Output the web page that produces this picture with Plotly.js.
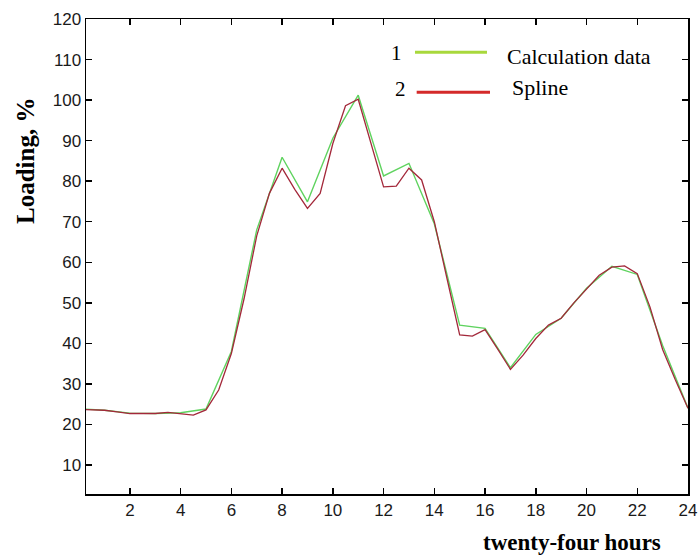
<!DOCTYPE html>
<html>
<head>
<meta charset="utf-8">
<script src="https://cdn.plot.ly/plotly-3.0.1.min.js"></script>
<style>html,body{margin:0;padding:0;background:#fff;}#chart{width:698px;height:557px;}</style>
</head>
<body>
<div id="chart"></div>
<script>
// Series 1: calculation data (hourly)
const calcHours = [0, 1, 2, 3, 4, 5, 6, 7, 8, 9, 10, 11, 12, 13, 14, 15, 16, 17, 18, 19, 20, 21, 22, 23, 24];
const calcValues = [23.9, 23.5, 22.8, 22.7, 22.9, 23.8, 38, 68, 85.9, 74.9, 90.6, 101.2, 81.3, 84.4, 69.5, 44.5, 43.7, 34.0, 42.2, 46.2, 53.6, 59.0, 57.0, 39.5, 24.0];

// Series 2: spline (half-hourly)
const splineHours = [0, 0.5, 1, 1.5, 2, 2.5, 3, 3.5, 4, 4.5, 5, 5.5, 6, 6.5, 7, 7.5, 8, 8.5, 9, 9.5, 10, 10.5, 11, 11.5, 12, 12.5, 13, 13.5, 14, 14.5, 15, 15.5, 16, 16.5, 17, 17.5, 18, 18.5, 19, 19.5, 20, 20.5, 21, 21.5, 22, 22.5, 23, 23.5, 24];
const splineValues = [23.7, 23.6, 23.5, 23.1, 22.7, 22.7, 22.7, 23.0, 22.7, 22.3, 23.6, 28.5, 37.5, 51, 66.5, 77, 83.2, 78, 73.3, 77, 89.3, 98.6, 100.2, 89.5, 78.6, 78.8, 83.2, 80.3, 70, 56, 42.1, 41.8, 43.4, 38.6, 33.6, 37.1, 41.2, 44.5, 46.2, 50, 53.5, 56.8, 58.8, 59.1, 57.2, 49, 38.5, 31, 24];

const xTicks = [2, 4, 6, 8, 10, 12, 14, 16, 18, 20, 22, 24];
const yTicks = [10, 20, 30, 40, 50, 60, 70, 80, 90, 100, 110, 120];

const seriesNames = ["Calculation data", "Spline"];
const seriesNumbers = ["1", "2"];
const xTitle = "twenty-four hours";
const yTitle = "Loading, %";

const traces = [
  {x: calcHours, y: calcValues, type: "scatter", mode: "lines", name: seriesNames[0],
   line: {color: "#5fd35f", width: 1.4}, showlegend: false},
  {x: splineHours, y: splineValues, type: "scatter", mode: "lines", name: seriesNames[1],
   line: {color: "#a3283a", width: 1.3}, showlegend: false}
];

const serif = "'Liberation Serif', 'Times New Roman', serif";
const sans = "'Liberation Sans', Arial, sans-serif";

const layout = {
  width: 698, height: 557,
  margin: {l: 86, r: 10, t: 19, b: 63},
  paper_bgcolor: "#fff", plot_bgcolor: "#fff",
  font: {family: serif},
  xaxis: {range: [0.27, 24], tickvals: xTicks, ticktext: xTicks.map(String),
    ticks: "inside", ticklen: 6, tickwidth: 1.5, tickcolor: "#000",
    showline: true, linecolor: "#000", linewidth: 1.5, mirror: "ticks",
    showgrid: false, zeroline: false,
    tickfont: {family: sans, size: 17, color: "#1a1a1a"}},
  yaxis: {range: [2.85, 120], tickvals: yTicks, ticktext: yTicks.map(String),
    ticks: "inside", ticklen: 6, tickwidth: 1.5, tickcolor: "#000",
    showline: true, linecolor: "#000", linewidth: 1.5, mirror: "ticks",
    showgrid: false, zeroline: false,
    tickfont: {family: sans, size: 17, color: "#1a1a1a"}},
  shapes: [
    {type: "line", xref: "paper", yref: "paper", x0: 0.5465, x1: 0.6661, y0: 0.9299, y1: 0.9299,
     line: {color: "#a8d83c", width: 3}},
    {type: "line", xref: "paper", yref: "paper", x0: 0.5493, x1: 0.6711, y0: 0.8457, y1: 0.8457,
     line: {color: "#d42a2a", width: 3}}
  ],
  annotations: [
    {text: seriesNumbers[0], xref: "paper", yref: "paper", x: 0.5161, y: 0.9274, xanchor: "center", yanchor: "middle",
     showarrow: false, font: {family: serif, size: 21, color: "#000"}},
    {text: seriesNumbers[1], xref: "paper", yref: "paper", x: 0.5216, y: 0.8526, xanchor: "center", yanchor: "middle",
     showarrow: false, font: {family: serif, size: 21, color: "#000"}},
    {text: seriesNames[0], xref: "paper", yref: "paper", x: 0.696, y: 0.9221, xanchor: "left", yanchor: "middle",
     showarrow: false, font: {family: serif, size: 22, color: "#000"}},
    {text: seriesNames[1], xref: "paper", yref: "paper", x: 0.7043, y: 0.8558, xanchor: "left", yanchor: "middle",
     showarrow: false, font: {family: serif, size: 22, color: "#000"}},
    {text: "<b>" + yTitle + "</b>", xref: "paper", yref: "paper", x: -0.1013, y: 0.701, xanchor: "center", yanchor: "middle",
     textangle: -90, showarrow: false, font: {family: serif, size: 25, color: "#000"}},
    {text: "<b>" + xTitle + "</b>", xref: "paper", yref: "paper", x: 0.8068, y: -0.1011, xanchor: "center", yanchor: "middle",
     showarrow: false, font: {family: serif, size: 23, color: "#000"}}
  ]
};

Plotly.newPlot("chart", traces, layout, {displayModeBar: false, staticPlot: true});
</script>
</body>
</html>
